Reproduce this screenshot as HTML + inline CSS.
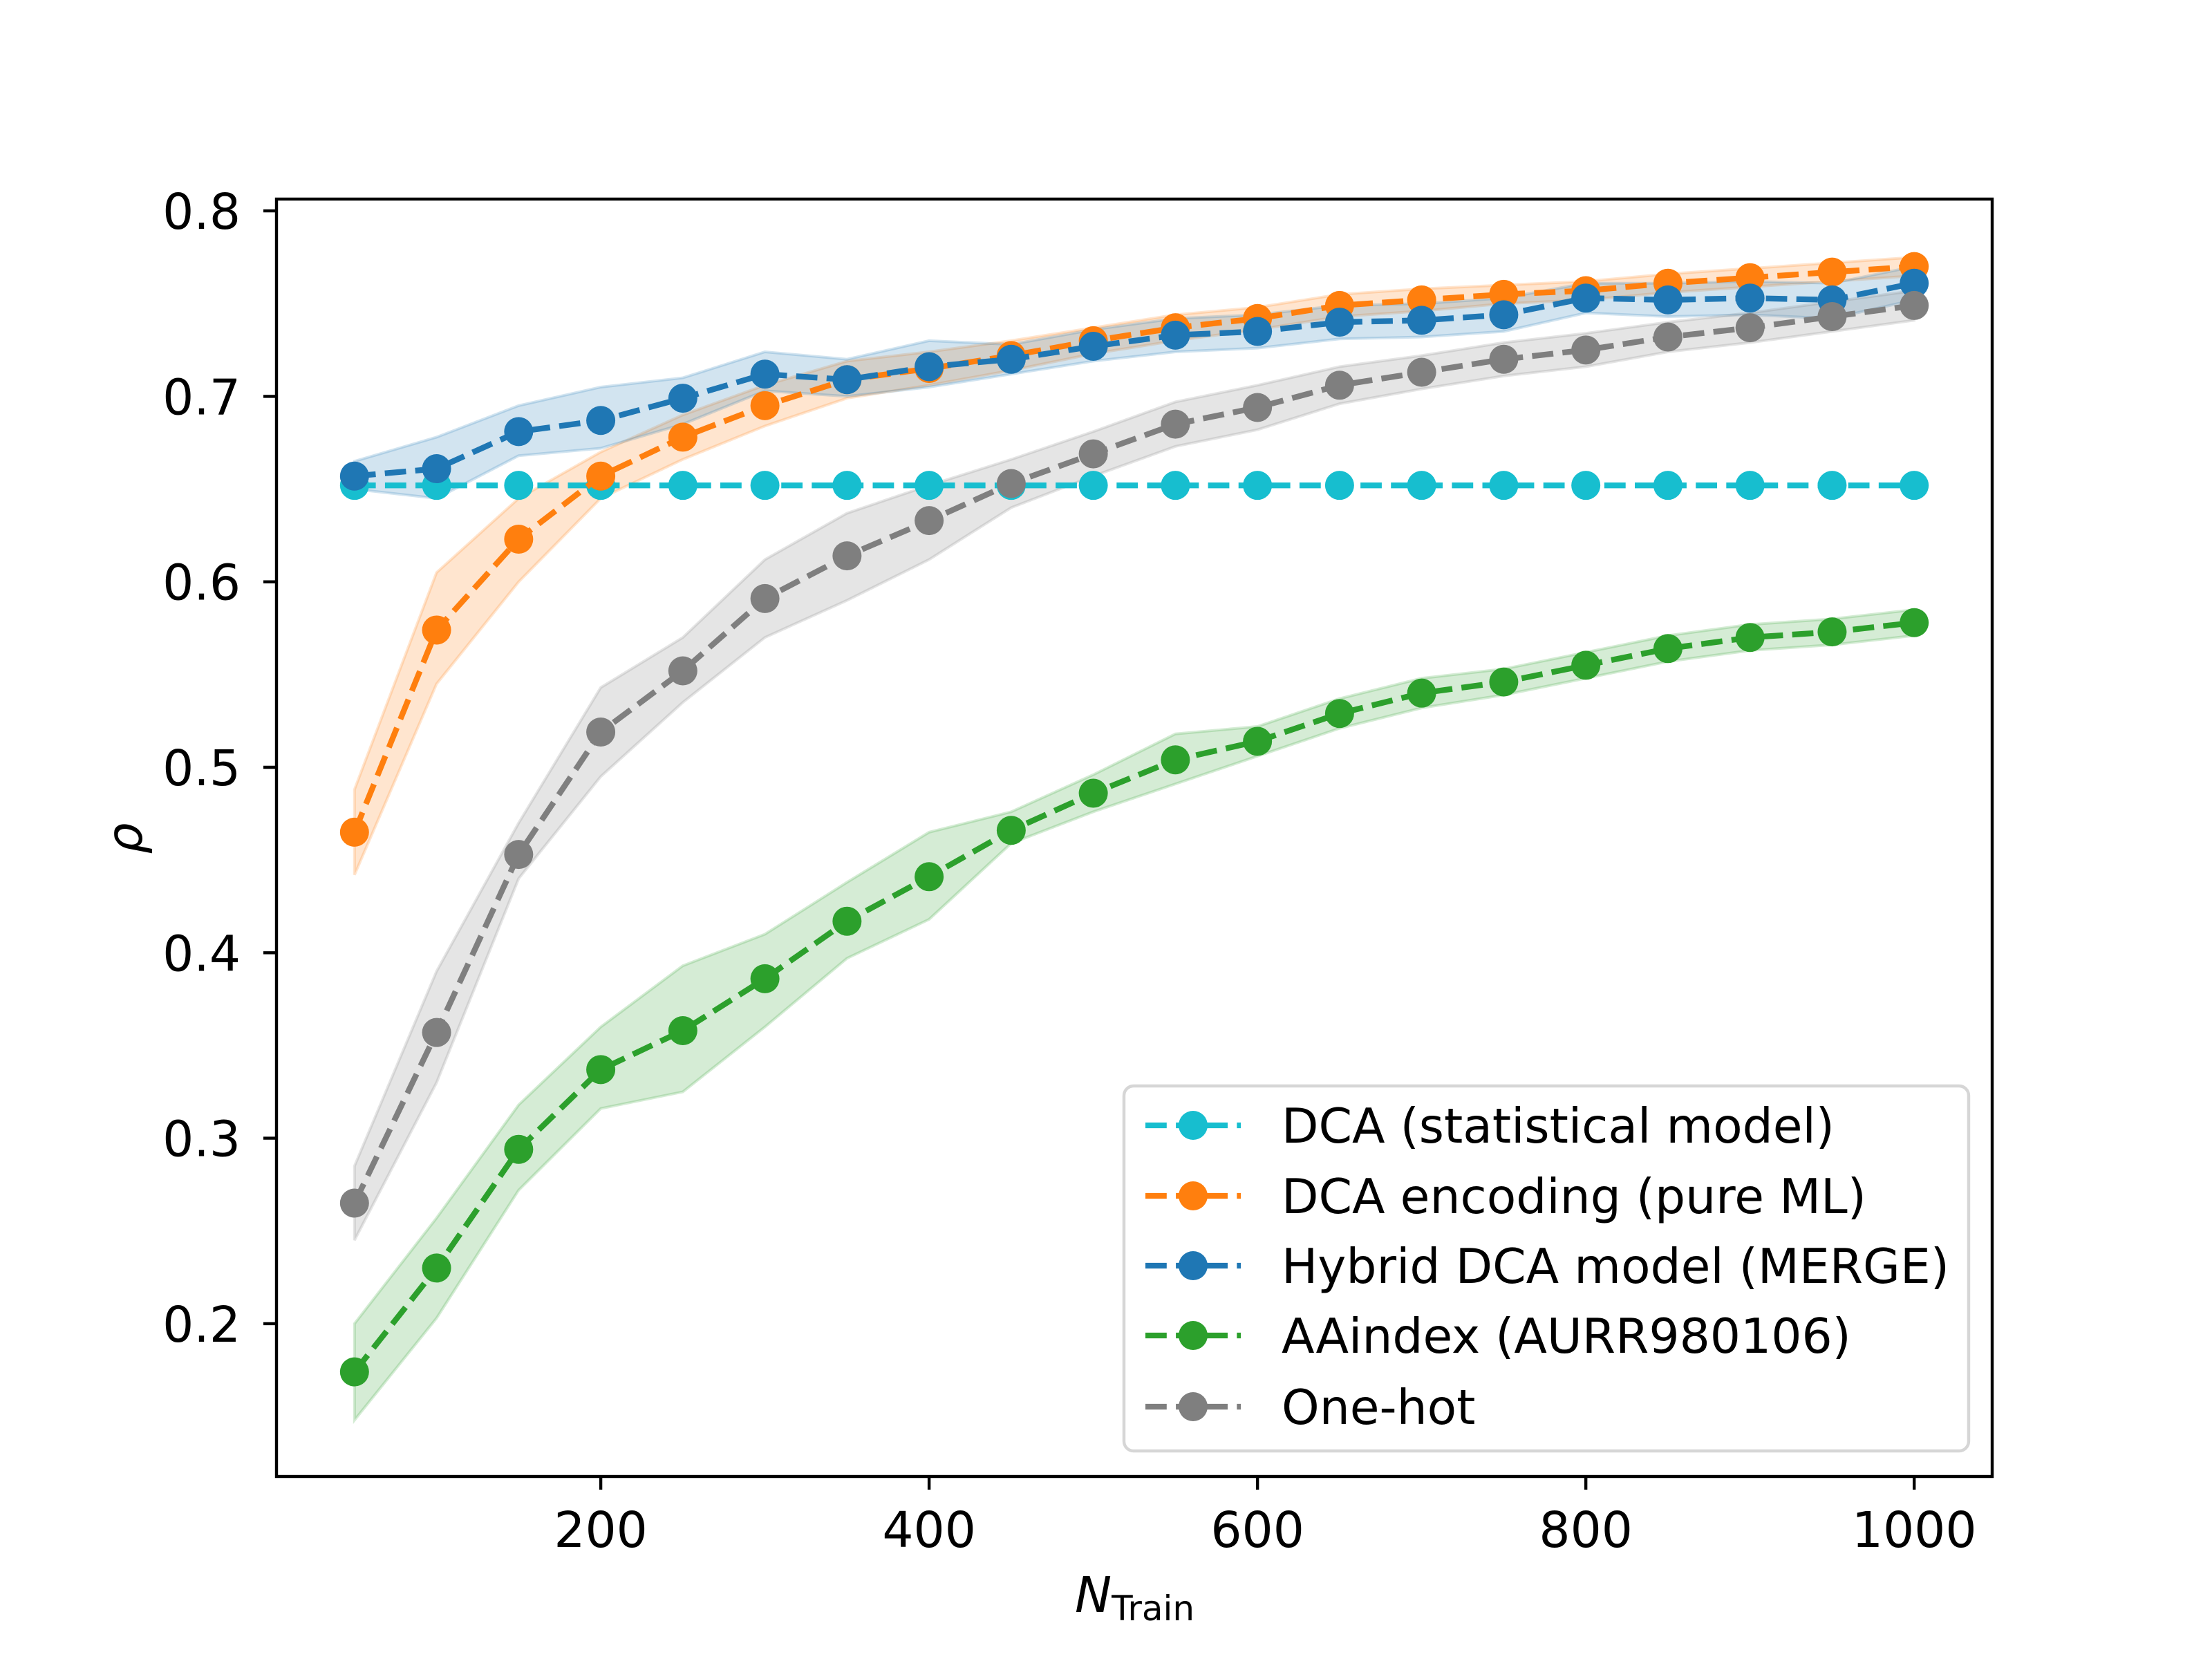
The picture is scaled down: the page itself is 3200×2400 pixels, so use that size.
<!DOCTYPE html>
<html><head><meta charset="utf-8"><style>
html,body{margin:0;padding:0;background:#fff;}
svg{display:block;font-family:"DejaVu Sans","Liberation Sans",sans-serif;}
</style></head><body>
<svg id="chart" width="3200" height="2400" viewBox="0 0 3200 2400" xmlns="http://www.w3.org/2000/svg">
<rect width="3200" height="2400" fill="#fff"/>
<g id="bands"></g>
<g id="lines"></g>
<g id="axes"></g>
<g id="legend"></g>
</svg>
<script>
const xs = [50,100,150,200,250,300,350,400,450,500,550,600,650,700,750,800,850,900,950,1000];
const seriesNames = ["DCA (statistical model)","DCA encoding (pure ML)","Hybrid DCA model (MERGE)","AAindex (AURR980106)","One-hot"];
const colors = ["#17becf","#ff7f0e","#1f77b4","#2ca02c","#7f7f7f"];
const dcaStat = [0.652,0.652,0.652,0.652,0.652,0.652,0.652,0.652,0.652,0.652,0.652,0.652,0.652,0.652,0.652,0.652,0.652,0.652,0.652,0.652];
const dcaEnc = [0.465,0.574,0.623,0.657,0.678,0.695,0.709,0.715,0.722,0.730,0.737,0.742,0.749,0.752,0.755,0.757,0.761,0.764,0.767,0.770];
const dcaEncLo = [0.442,0.545,0.600,0.645,0.666,0.684,0.699,0.706,0.714,0.723,0.730,0.736,0.743,0.746,0.750,0.752,0.756,0.759,0.762,0.765];
const dcaEncHi = [0.488,0.605,0.645,0.670,0.690,0.706,0.719,0.724,0.730,0.737,0.744,0.748,0.755,0.758,0.760,0.762,0.766,0.769,0.772,0.775];
const hybrid = [0.657,0.661,0.681,0.687,0.699,0.712,0.709,0.716,0.720,0.727,0.733,0.735,0.740,0.741,0.744,0.753,0.752,0.753,0.752,0.761];
const hybridLo = [0.650,0.645,0.668,0.672,0.685,0.703,0.700,0.705,0.712,0.719,0.724,0.726,0.731,0.732,0.735,0.745,0.743,0.744,0.742,0.752];
const hybridHi = [0.665,0.678,0.695,0.705,0.710,0.724,0.720,0.730,0.728,0.736,0.742,0.744,0.749,0.750,0.753,0.761,0.761,0.762,0.761,0.770];
const aaindex = [0.174,0.230,0.294,0.337,0.358,0.386,0.417,0.441,0.466,0.486,0.504,0.514,0.529,0.540,0.546,0.555,0.564,0.570,0.573,0.578];
const aaindexLo = [0.148,0.203,0.272,0.316,0.325,0.360,0.397,0.418,0.459,0.476,0.491,0.506,0.521,0.532,0.539,0.548,0.557,0.563,0.566,0.571];
const aaindexHi = [0.200,0.257,0.318,0.360,0.393,0.410,0.438,0.465,0.476,0.496,0.518,0.522,0.537,0.548,0.553,0.562,0.571,0.577,0.580,0.585];
const onehot = [0.265,0.357,0.453,0.519,0.552,0.591,0.614,0.633,0.653,0.669,0.685,0.694,0.706,0.713,0.720,0.725,0.732,0.737,0.743,0.749];
const onehotLo = [0.245,0.330,0.440,0.495,0.535,0.570,0.590,0.612,0.640,0.657,0.673,0.682,0.696,0.704,0.711,0.716,0.724,0.729,0.735,0.741];
const onehotHi = [0.285,0.390,0.470,0.543,0.570,0.612,0.637,0.652,0.666,0.681,0.697,0.706,0.716,0.722,0.729,0.734,0.740,0.745,0.751,0.757];
const xTicks = [200,400,600,800,1000];
const yTicks = [0.2,0.3,0.4,0.5,0.6,0.7,0.8];

const NS="http://www.w3.org/2000/svg";
const L=400,R=2882,T=288,B=2136;
const xMin=2.5,xMax=1047.5;
function X(v){return L+(v-xMin)/(xMax-xMin)*(R-L);}
function Y(v){return 1110+(0.5-v)*2683;}
function mk(tag,attrs,parent){const e=document.createElementNS(NS,tag);for(const k in attrs)e.setAttribute(k,attrs[k]);parent.appendChild(e);return e;}

const bands=document.getElementById('bands'),lines=document.getElementById('lines'),axes=document.getElementById('axes'),legend=document.getElementById('legend');
const all=[[dcaStat,null,null],[dcaEnc,dcaEncLo,dcaEncHi],[hybrid,hybridLo,hybridHi],[aaindex,aaindexLo,aaindexHi],[onehot,onehotLo,onehotHi]];
const slugs=["dca-statistical","dca-encoding","hybrid-merge","aaindex","one-hot"];
all.forEach((s,i)=>{
  if(s[1]){
    let d=xs.map((x,j)=>(j?'L':'M')+X(x)+' '+Y(s[2][j])).join(' ');
    for(let j=xs.length-1;j>=0;j--)d+=' L'+X(xs[j])+' '+Y(s[1][j]);
    const p=mk('path',{d:d+' Z',fill:colors[i],'fill-opacity':0.2,stroke:colors[i],'stroke-opacity':0.2,'stroke-width':4},bands);
    
    
  }
});
all.forEach((s,i)=>{
  const g=mk('g',{},lines);
  
  
  const pts=xs.map((x,j)=>X(x)+','+Y(s[0][j])).join(' ');
  mk('polyline',{points:pts,fill:'none',stroke:colors[i],'stroke-width':8.3,'stroke-dasharray':'30.8 13.3'},g);
  xs.forEach((x,j)=>{
    const c=mk('circle',{cx:X(x),cy:Y(s[0][j]),r:21,fill:colors[i]},g);
    
    
  });
});
mk('rect',{x:L,y:T,width:R-L,height:B-T,fill:'none',stroke:'#000','stroke-width':4.4},axes);
xTicks.forEach(t=>{
  mk('line',{x1:X(t),x2:X(t),y1:B,y2:B+19,stroke:'#000','stroke-width':4.4},axes);
  const tx=mk('text',{x:X(t),y:2238,'text-anchor':'middle','font-size':71},axes);
  tx.textContent=t;
  
  
});
yTicks.forEach(t=>{
  mk('line',{x1:L-19,x2:L,y1:Y(t),y2:Y(t),stroke:'#000','stroke-width':4.4},axes);
  const tx=mk('text',{x:348,y:Y(t)+26,'text-anchor':'end','font-size':71},axes);
  tx.textContent=t.toFixed(1);
  
  
});
const xl=mk('text',{x:1555,y:2332,'font-size':71},axes);


xl.innerHTML='<tspan font-style="italic">N</tspan><tspan font-size="50" dy="12">Train</tspan>';
const yl=mk('text',{x:0,y:0,'font-size':71,'font-style':'italic','text-anchor':'middle',transform:'translate(205,1213) rotate(-90)'},axes);


yl.textContent='ρ';
const lb=mk('rect',{x:1626,y:1571,width:1222,height:528,rx:14,fill:'#fff','fill-opacity':0.8,stroke:'#d6d6d6','stroke-width':4.4},legend);


const ly=[1628,1730,1831,1932,2035];
seriesNames.forEach((n,i)=>{
  const g=mk('g',{},legend);
  
  
  mk('line',{x1:1657,x2:1795,y1:ly[i],y2:ly[i],stroke:colors[i],'stroke-width':8.3,'stroke-dasharray':'30.8 13.3'},g);
  mk('circle',{cx:1726,cy:ly[i],r:21,fill:colors[i]},g);
  const t=mk('text',{x:1854,y:ly[i]+25,'font-size':69.5},g);
  t.textContent=n;
});
</script>
</body></html>
